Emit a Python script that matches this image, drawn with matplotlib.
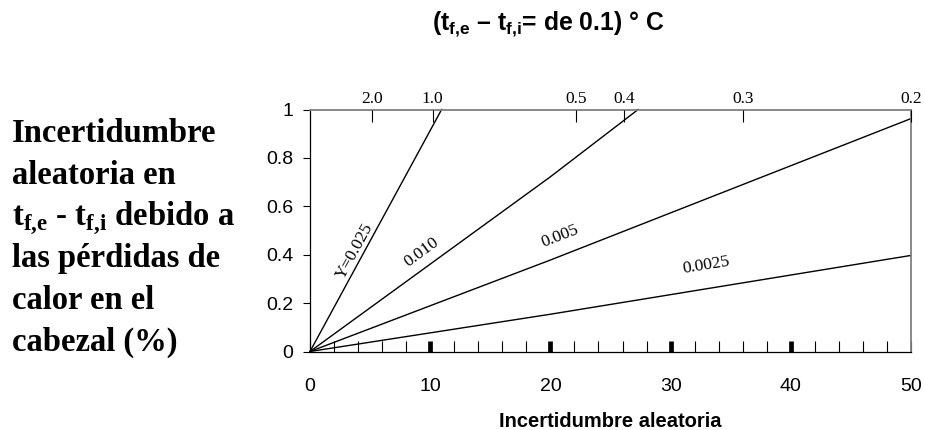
import matplotlib.pyplot as plt
import numpy as np

plt.rcParams['mathtext.fontset'] = 'custom'
plt.rcParams['mathtext.bf'] = 'Liberation Serif:bold'
plt.rcParams['mathtext.sf'] = 'Liberation Sans:bold'

# lines (x = random uncertainty, y = heat-loss uncertainty)
line_names = ["Y=0.025", "0.010", "0.005", "0.0025"]
line_x = [[0, 10.95], [0, 20, 27.3], [0, 20, 50], [0, 20, 50]]
line_y = [[0, 1.0], [0, 0.722, 1.0], [0, 0.378, 0.9625], [0, 0.154, 0.397]]
label_xy = [(3.74, 0.414), (9.29, 0.41), (20.8, 0.478), (33.0, 0.358)]

x_ticks = [0, 10, 20, 30, 40, 50]
y_ticks = [0, 0.2, 0.4, 0.6, 0.8, 1.0]
y_ticklabels = ["0", "0.2", "0.4", "0.6", "0.8", "1"]
top_ticks = [5.15, 10.2, 22.1, 26.1, 36.05, 50]
top_labels = ["2.0", "1.0", "0.5", "0.4", "0.3", "0.2"]

left_text = ["Incertidumbre", "aleatoria en",
             r"$\mathbf{t}_{\mathbf{f{,}e}}$ - $\mathbf{t}_{\mathbf{f{,}i}}$ debido a",
             "las pérdidas de", "calor en el", "cabezal (%)"]

fig = plt.figure(figsize=(9.25, 4.3), dpi=100)
ax = fig.add_axes([310/925, 1-351.5/430, 601/925, 242/430])

for xs, ys in zip(line_x, line_y):
    ax.plot(xs, ys, color='black', lw=1.0, clip_on=False)

ax.set_xlim(0, 50)
ax.set_ylim(0, 1)

# angle of each label along its line, in screen space
for name, (tx, ty), xs, ys in zip(line_names, label_xy, line_x, line_y):
    p0 = ax.transData.transform((xs[0], ys[0]))
    p1 = ax.transData.transform((xs[-1], ys[-1]))
    ang = np.degrees(np.arctan2(p1[1]-p0[1], p1[0]-p0[0]))
    ax.text(tx, ty, name, rotation=ang, ha='center', va='center',
            family='Liberation Serif', fontsize=12.5, rotation_mode='anchor')

# bottom axis
ax.set_xticks(x_ticks)
ax.set_xticklabels([str(v) for v in x_ticks], family='Liberation Sans', fontsize=14)
ax.set_xticks([v for v in range(2, 50, 2) if v % 10 != 0], minor=True)
ax.tick_params(axis='x', which='major', direction='in', length=8, width=3.4, pad=19)
ax.tick_params(axis='x', which='minor', direction='in', length=8, width=0.8)
for t in [ax.xaxis.get_major_ticks()[0], ax.xaxis.get_major_ticks()[-1]]:
    t.tick1line.set_markeredgewidth(0.8)

ax.set_yticks(y_ticks)
ax.set_yticklabels(y_ticklabels, family='Liberation Sans', fontsize=14)
ax.tick_params(axis='y', direction='out', length=5, width=0.8, pad=7)

ax.spines['top'].set_color('#808080')
ax.spines['right'].set_color('#808080')
ax.spines['top'].set_linewidth(1.3)
ax.spines['right'].set_linewidth(1.3)
ax.spines['left'].set_linewidth(0.9)
ax.spines['bottom'].set_linewidth(0.9)

ax.set_xlabel("Incertidumbre aleatoria", family='Liberation Sans',
              fontweight='bold', fontsize=14.5, labelpad=12)

# top axis with temperature difference
ax2 = ax.twiny()
ax2.set_xlim(0, 50)
for s in ax2.spines.values():
    s.set_visible(False)
ax2.set_xticks(top_ticks)
ax2.set_xticklabels(top_labels, family='Liberation Serif', fontsize=12.5)
ax2.tick_params(axis='x', direction='in', length=8.5, width=0.8, pad=2)

fig.text(548/925, 1-30.5/430,
         r"($\mathsf{t}_{\mathsf{f{,}e}}$ – $\mathsf{t}_{\mathsf{f{,}i}}$= de 0.1) ° C",
         family='Liberation Sans', fontweight='bold', fontsize=17.8,
         ha='center', va='baseline')

for i, s in enumerate(left_text):
    fig.text(12/925, 1-(142+41.8*i)/430, s, family='Liberation Serif',
             fontweight='bold', fontsize=23.5, ha='left', va='baseline')

fig.savefig('out.png', dpi=100)
